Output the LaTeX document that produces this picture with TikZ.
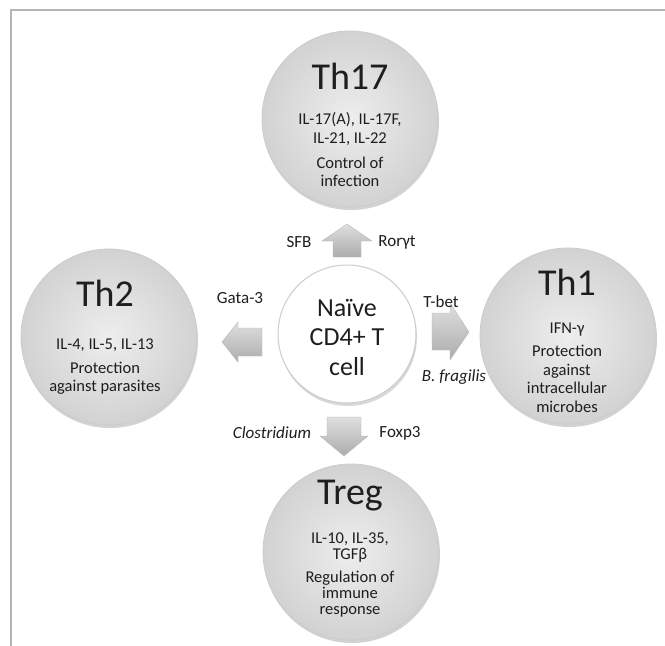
\documentclass[tikz,border=0pt]{standalone}
\usepackage{fontspec}
\setmainfont{Carlito}
\usetikzlibrary{shadows}
\definecolor{framegray}{HTML}{B4B4B4}
\definecolor{cellfill}{HTML}{E2E2E2}
\definecolor{cellout}{HTML}{D2D2D2}
\definecolor{celledge}{HTML}{CCCCCC}
\definecolor{txt}{HTML}{1E1E1E}
\tikzset{
  cell/.style={circle, minimum size=176pt, inner sep=0pt, draw=celledge, line width=0.8pt,
    inner color=white!40!cellfill, outer color=cellout,
    drop shadow={opacity=0.35, shadow xshift=1pt, shadow yshift=-3pt}},
  naive/.style={circle, minimum size=138pt, inner sep=0pt, draw=celledge, line width=1pt, fill=white,
    drop shadow={opacity=0.3, shadow xshift=1pt, shadow yshift=-3pt}},
  title/.style={font=\fontsize{38}{40}\selectfont, text=txt, inner sep=0pt},
  body/.style={font=\fontsize{16.5}{18.5}\selectfont, text=txt, align=center, inner sep=0pt},
  tightbody/.style={font=\fontsize{16.5}{16}\selectfont, text=txt, align=center, inner sep=0pt},
  lab/.style={font=\fontsize{17}{19}\selectfont, text=txt, inner sep=0pt},
  itlab/.style={font=\fontsize{17}{19}\selectfont\itshape, text=txt, inner sep=0pt},
  blockarrow/.style={draw=gray!55, line width=0.4pt, top color=gray!25, bottom color=gray!65}
}
\begin{document}
\begin{tikzpicture}[x=1pt, y=-1pt]
\useasboundingbox (0,0) rectangle (665,646);
\fill[white] (0,0) rectangle (665,646);
% frame
\draw[framegray, line width=2pt] (11,646) -- (11,10) -- (665,10);

% cells
\node[cell] (th17) at (350,119) {};
\node[cell] (th2) at (109,337) {};
\node[cell] (th1) at (568,336) {};
\node[cell] (treg) at (351,552) {};
\node[naive] (naive) at (347,334) {};

% naive text
\node[font=\fontsize{26}{29.5}\selectfont, text=txt, align=center, inner sep=0pt] (naivetxt) at (347,337) {Naïve\\CD4+ T\\cell};

% Th17 text
\node[title] (th17t) at (350,76) {Th17};
\node[body] (th17c) at (350,129) {IL-17(A), IL-17F,\\IL-21, IL-22};
\node[body] (th17f) at (350,172) {Control of\\infection};

% Th2 text
\node[title] (th2t) at (105,293) {Th2};
\node[body] (th2c) at (105,345) {IL-4, IL-5, IL-13};
\node[body] (th2f) at (105,378) {Protection\\against parasites};

% Th1 text
\node[title] (th1t) at (567,282) {Th1};
\node[body] (th1c) at (567,330) {IFN-γ};
\node[body] (th1f) at (567,379) {Protection\\against\\intracellular\\microbes};

% Treg text
\node[title] (tregt) at (350,496) {Treg};
\node[tightbody] (tregc) at (350,548) {IL-10, IL-35,\\TGFβ};
\node[tightbody] (tregf) at (350,594) {Regulation of\\immune\\response};

% block arrows
\path[blockarrow] (333,257) -- (333,241) -- (322,241) -- (347,224) -- (372,241) -- (361,241) -- (361,257) -- cycle;
\path[blockarrow] (262,328) -- (238,328) -- (238,322) -- (222,342) -- (238,362) -- (238,356) -- (262,356) -- cycle;
\path[blockarrow] (432,313) -- (450,313) -- (450,303) -- (469,332) -- (450,360) -- (450,350) -- (432,350) -- cycle;
\path[blockarrow] (327,417) -- (361,417) -- (361,436) -- (368,436) -- (344,456) -- (320,436) -- (327,436) -- cycle;

% labels
\node[lab] (sfb) at (299,242) {SFB};
\node[lab] (ror) at (397,242) {Rorγt};
\node[lab] (gata) at (240,298) {Gata-3};
\node[lab] (tbet) at (441,302) {T-bet};
\node[itlab] (bfrag) at (454,377) {B. fragilis};
\node[itlab] (clos) at (272,433) {Clostridium};
\node[lab] (foxp) at (400,433) {Foxp3};
\end{tikzpicture}
\end{document}
